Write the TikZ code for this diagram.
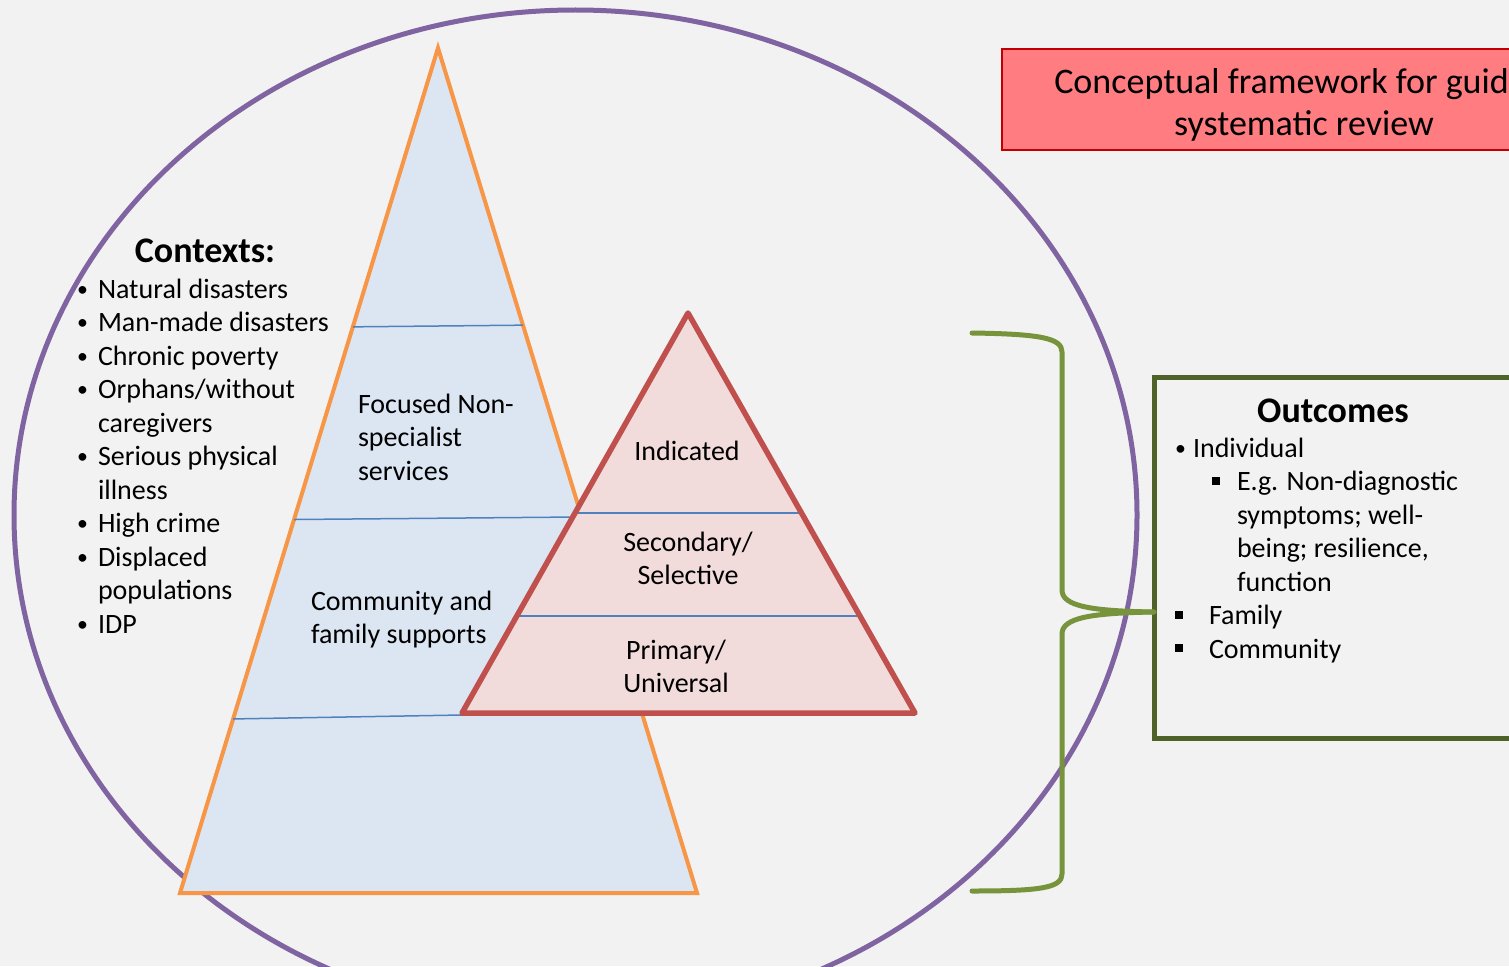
\documentclass[tikz,border=0pt]{standalone}
\usepackage{fontspec}
\setmainfont{Carlito}
\usetikzlibrary{calc}

\definecolor{bgc}{HTML}{F2F2F2}
\definecolor{ringc}{HTML}{8064A2}
\definecolor{orangec}{HTML}{F79646}
\definecolor{bluefill}{HTML}{DCE6F2}
\definecolor{tierline}{HTML}{4F81BD}
\definecolor{redc}{HTML}{C0504D}
\definecolor{pinkfill}{HTML}{F2DCDB}
\definecolor{titlefill}{HTML}{FF7C80}
\definecolor{titleedge}{HTML}{C00000}
\definecolor{outedge}{HTML}{4F6228}
\definecolor{bracec}{HTML}{77933C}

\newcommand{\bodyfont}{\fontsize{28}{33.5}\selectfont}
\newcommand{\headfont}{\fontsize{36}{42}\selectfont\bfseries}
\newcommand{\dotmark}{\raisebox{2pt}{\scalebox{0.78}{\textbullet}}}
\newcommand{\bul}{\makebox[21pt][l]{\dotmark}}
\newcommand{\ind}{\hspace*{21pt}}
\newcommand{\sq}{\rule[6pt]{8pt}{8pt}}

\tikzset{
  txt/.style={inner sep=0pt, outer sep=0pt, font=\bodyfont, text=black},
  head/.style={inner sep=0pt, outer sep=0pt, font=\headfont, text=black},
  tier/.style={draw=tierline, line width=1.5pt},
  brace/.style={draw=bracec, line width=5pt, line cap=round, line join=round},
}

\begin{document}
\begin{tikzpicture}[x=1pt, y=-1pt]
  \useasboundingbox (0,0) rectangle (1509,966);
  \fill[bgc] (0,0) rectangle (1509,966);
  \clip (0,0) rectangle (1509,966);

  % surrounding ring
  \draw[ringc, line width=5pt] (575.5,515) ellipse [x radius=561.5pt, y radius=505pt];

  % service pyramid
  \coordinate (pa) at (438,48);
  \coordinate (pl) at (180,893);
  \coordinate (pr) at (697,893);
  \filldraw[fill=bluefill, draw=orangec, line width=4pt, line join=miter] (pa) -- (pl) -- (pr) -- cycle;
  \draw[tier] ($(pa)!0.330!(pl)$) -- ($(pa)!0.328!(pr)$);
  \draw[tier] ($(pa)!0.558!(pl)$) -- (578,517);
  \draw[tier] ($(pa)!0.794!(pl)$) -- (462,715);

  % prevention pyramid
  \coordinate (ra) at (688,313);
  \coordinate (rl) at (462,713);
  \coordinate (rr) at (915,713);
  \fill[pinkfill] (ra) -- (rl) -- (rr) -- cycle;
  \draw[tier] ($(ra)!0.5!(rl)$) -- ($(ra)!0.5!(rr)$);
  \draw[tier] ($(ra)!0.7575!(rl)$) -- ($(ra)!0.7575!(rr)$);
  \draw[redc, line width=5.5pt, line join=round] (ra) -- (rl) -- (rr) -- cycle;

  % pyramid labels
  \node[txt, anchor=base west] (focused) at (358,413)
    {\begin{tabular}[t]{@{}l@{}}Focused Non-\\specialist\\services\end{tabular}};
  \node[txt, anchor=base west] (community) at (311,610)
    {\begin{tabular}[t]{@{}l@{}}Community and\\family supports\end{tabular}};
  \node[txt, anchor=base] (indicated) at (687,460) {Indicated};
  \node[txt, anchor=base] (secondary) at (688,551)
    {\begin{tabular}[t]{@{}c@{}}Secondary/\\Selective\end{tabular}};
  \node[txt, anchor=base] (primary) at (676,659)
    {\begin{tabular}[t]{@{}c@{}}Primary/\\Universal\end{tabular}};

  % contexts list
  \node[head, anchor=base] (ctxhead) at (205,262) {Contexts:};
  \node[txt, anchor=base west] (ctxlist) at (77,298)
    {\begin{tabular}[t]{@{}l@{}}
      \bul Natural disasters\\
      \bul Man-made disasters\\
      \bul Chronic poverty\\
      \bul Orphans/without\\
      \ind caregivers\\
      \bul Serious physical\\
      \ind illness\\
      \bul High crime\\
      \bul Displaced\\
      \ind populations\\
      \bul IDP
    \end{tabular}};

  % title banner
  \node[draw=titleedge, fill=titlefill, line width=2pt, anchor=north west, outer sep=0pt,
        minimum width=620pt, minimum height=101pt, inner sep=0pt] (titlebox) at (1002,49) {};
  \node[inner sep=0pt, anchor=base east, font=\fontsize{36}{43}\selectfont] (title1) at (1509,93)
    {Conceptual framework for guid};
  \node[inner sep=0pt, anchor=base, font=\fontsize{36}{43}\selectfont] (title2) at (1304,135)
    {systematic review};

  % outcomes box
  \node[draw=outedge, line width=5pt, anchor=north west, outer sep=0pt,
        minimum width=360pt, minimum height=361pt, inner sep=0pt] (obox) at (1154,377) {};
  \node[head, anchor=base] (outhead) at (1333,422) {Outcomes};
  \node[txt, anchor=base west] (outlist) at (1175,457)
    {\begin{tabular}[t]{@{}l@{}}
      \makebox[18pt][l]{\dotmark}Individual\\
      \hspace*{37pt}\makebox[25pt][l]{\sq}E.g. Non-diagnostic\\
      \hspace*{62pt}symptoms; well-\\
      \hspace*{62pt}being; resilience,\\
      \hspace*{62pt}function\\
      \makebox[34pt][l]{\sq}Family\\
      \makebox[34pt][l]{\sq}Community
    \end{tabular}};

  % brace joining the pyramids to the outcomes
  \coordinate (tip) at (obox.west |- 0,612);
  \coordinate (btop) at (972,333);
  \coordinate (bbot) at (972,891);
  \draw[brace] (btop) .. controls (1040,334) and (1062,338) .. (1062,352)
    -- (1062,590) .. controls (1062,606) and (1090,611) .. (tip);
  \draw[brace] (tip) .. controls (1090,613) and (1062,618) .. (1062,634)
    -- (1062,874) .. controls (1062,888) and (1040,891) .. (bbot);
\end{tikzpicture}
\end{document}
